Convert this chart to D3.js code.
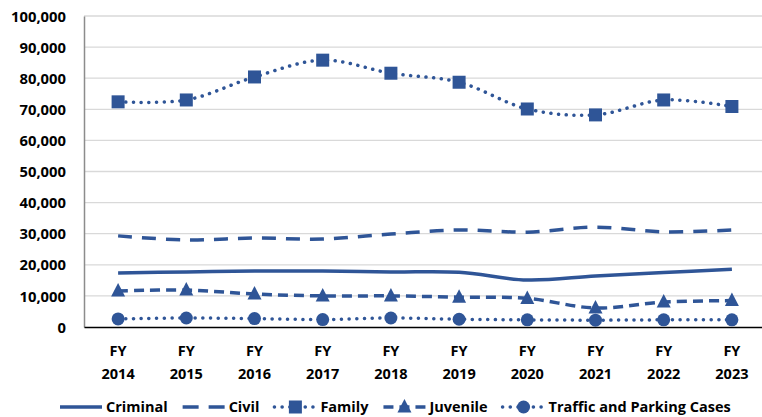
<!DOCTYPE html>
<html>
<head>
<meta charset="utf-8">
<script src="https://cdn.jsdelivr.net/npm/d3@7"></script>
<style>
  body { margin: 0; background: #fff; }
  text { font-family: "Open Sans", "Noto Sans", sans-serif; font-weight: bold; fill: #000; }
</style>
</head>
<body>
<script>
// data
var years = ['2014', '2015', '2016', '2017', '2018', '2019', '2020', '2021', '2022', '2023'];
var criminal = [17400, 17700, 18000, 18000, 17700, 17600, 15100, 16400, 17500, 18600];
var civil = [29300, 28000, 28600, 28300, 29900, 31200, 30500, 32100, 30600, 31200];
var family = [72400, 73000, 80400, 85800, 81600, 78700, 70100, 68200, 73000, 70900];
var juvenile = [11600, 11900, 10600, 10000, 10000, 9600, 9200, 6100, 8000, 8500];
var traffic = [2600, 2900, 2700, 2400, 2900, 2500, 2300, 2200, 2300, 2300];
var yTicks = [0, 10000, 20000, 30000, 40000, 50000, 60000, 70000, 80000, 90000, 100000];

var blue = '#2f5597';
var W = 762, H = 417;
var m = { left: 84, right: 766, top: 16, bottom: 327 };

var series = [
  { name: 'Criminal', values: criminal, dash: null, marker: null },
  { name: 'Civil', values: civil, dash: '14 10', marker: null },
  { name: 'Family', values: family, dash: '0.1 7.6', marker: 'square' },
  { name: 'Juvenile', values: juvenile, dash: '10 6', marker: 'triangle' },
  { name: 'Traffic and Parking Cases', values: traffic, dash: '0.1 7.6', marker: 'circle' }
];

var svg = d3.select('body').append('svg').attr('width', W).attr('height', H);

var x = d3.scaleBand().domain(years).range([m.left, m.right]);
var y = d3.scaleLinear().domain([0, 100000]).range([m.bottom, m.top]);
var cx = function (d, i) { return x(years[i]) + x.bandwidth() / 2; };

// gridlines
svg.append('g').selectAll('line')
  .data(yTicks.slice(1))
  .enter().append('line')
  .attr('x1', m.left).attr('x2', m.right)
  .attr('y1', function (d) { return y(d); }).attr('y2', function (d) { return y(d); })
  .attr('stroke', '#d9d9d9').attr('stroke-width', 1.3);

// y axis
var yAxis = svg.append('g')
  .attr('transform', 'translate(' + m.left + ',0)')
  .call(d3.axisLeft(y).tickValues(yTicks).tickSize(0).tickPadding(18).tickFormat(d3.format(',')));
yAxis.select('.domain').attr('stroke', '#8c8c8c').attr('stroke-width', 1.5);
yAxis.selectAll('text').style('font-size', '14.8px').attr('dy', '0.35em');

// x axis
var xAxis = svg.append('g')
  .attr('transform', 'translate(0,' + m.bottom + ')')
  .call(d3.axisBottom(x).tickSize(0).tickFormat(''));
xAxis.select('.domain').attr('stroke', '#000').attr('stroke-width', 1.5);
xAxis.selectAll('.tick').each(function (d) {
  var t = d3.select(this).append('text')
    .attr('text-anchor', 'middle')
    .style('font-size', '14.5px');
  t.append('tspan').attr('x', 0).attr('y', 29).text('FY');
  t.append('tspan').attr('x', 0).attr('y', 52).text(d);
});

var line = d3.line()
  .x(cx)
  .y(function (d) { return y(d); })
  .curve(d3.curveCatmullRom.alpha(0.5));

function drawMarker(g, type, px, py) {
  if (type === 'square') {
    g.append('rect').attr('x', px - 6.5).attr('y', py - 6.5).attr('width', 13).attr('height', 13)
      .attr('fill', blue);
  } else if (type === 'triangle') {
    g.append('path').attr('d', 'M' + px + ',' + (py - 8) + 'L' + (px + 7) + ',' + (py + 5.5) + 'L' + (px - 7) + ',' + (py + 5.5) + 'Z')
      .attr('fill', blue);
  } else if (type === 'circle') {
    g.append('circle').attr('cx', px).attr('cy', py).attr('r', 6.5).attr('fill', blue);
  }
}

series.forEach(function (s) {
  var g = svg.append('g');
  g.append('path')
    .attr('d', line(s.values))
    .attr('fill', 'none')
    .attr('stroke', blue)
    .attr('stroke-width', 3.5)
    .attr('stroke-linecap', s.marker === 'square' || s.marker === 'circle' ? 'round' : 'butt')
    .attr('stroke-dasharray', s.dash);
  if (s.marker) {
    s.values.forEach(function (v, i) { drawMarker(g, s.marker, cx(v, i), y(v)); });
  }
});

// legend
var legend = svg.append('g');
var lx = 60, ly = 407, sample = 42;
series.forEach(function (s) {
  var g = legend.append('g');
  g.append('line')
    .attr('x1', lx).attr('x2', lx + sample).attr('y1', ly).attr('y2', ly)
    .attr('stroke', blue).attr('stroke-width', 3.5)
    .attr('stroke-linecap', s.marker === 'square' || s.marker === 'circle' ? 'round' : 'butt')
    .attr('stroke-dasharray', s.dash ? (s.marker ? s.dash : (s.name === 'Civil' ? '16 10' : '9 5')) : null);
  if (s.marker) drawMarker(g, s.marker, lx + sample / 2, ly);
  var t = g.append('text')
    .attr('x', lx + sample + 4).attr('y', ly + 5)
    .style('font-size', '14.5px')
    .text(s.name);
  lx += sample + 4 + t.node().getComputedTextLength() + 15;
});
</script>
</body>
</html>
